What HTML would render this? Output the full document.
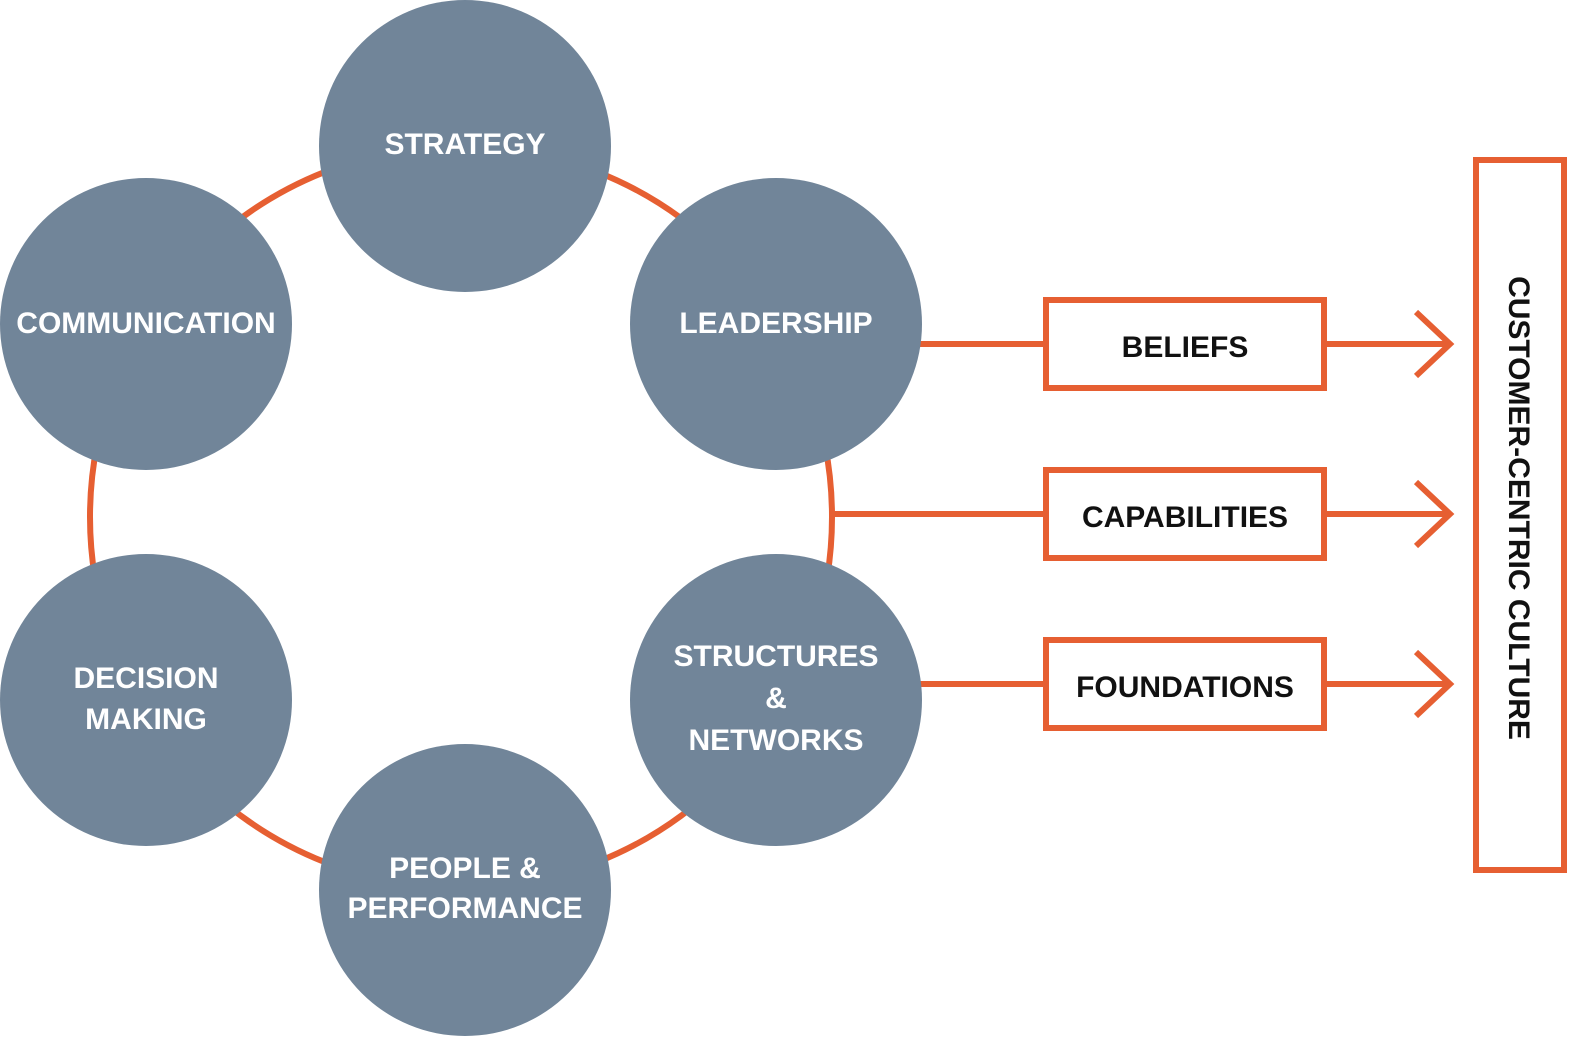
<!DOCTYPE html>
<html><head><meta charset="utf-8"><style>
html,body{margin:0;padding:0;background:#fff;}
svg text{font-family:"Liberation Sans","DejaVu Sans",sans-serif;font-weight:bold;}
</style></head><body>
<svg width="1581" height="1045" viewBox="0 0 1581 1045" xmlns="http://www.w3.org/2000/svg">
<g fill="none" stroke="#E65F32" stroke-width="6">
<circle cx="461" cy="517" r="371"/>
<line x1="900" y1="344" x2="1044" y2="344"/>
<line x1="832" y1="514" x2="1044" y2="514"/>
<line x1="900" y1="684" x2="1044" y2="684"/>
<rect x="1046" y="300" width="278" height="88"/>
<rect x="1046" y="470" width="278" height="88"/>
<rect x="1046" y="640" width="278" height="88"/>
<line x1="1324" y1="344" x2="1450" y2="344"/>
<line x1="1324" y1="514" x2="1450" y2="514"/>
<line x1="1324" y1="684" x2="1450" y2="684"/>
<polyline points="1416,312 1450,344 1416,376"/>
<polyline points="1416,482 1450,514 1416,546"/>
<polyline points="1416,652 1450,684 1416,716"/>
<rect x="1476" y="160" width="88" height="710"/>
</g>
<g fill="#718599">
<circle cx="465" cy="146" r="146"/>
<circle cx="776" cy="324" r="146"/>
<circle cx="776" cy="700" r="146"/>
<circle cx="465" cy="890" r="146"/>
<circle cx="146" cy="700" r="146"/>
<circle cx="146" cy="324" r="146"/>
</g>
<g fill="#fff" font-size="30" text-anchor="middle">
<text x="465" y="154">STRATEGY</text>
<text x="776" y="333">LEADERSHIP</text>
<text x="146" y="333">COMMUNICATION</text>
<text x="776" y="666">STRUCTURES</text>
<text x="776" y="708">&amp;</text>
<text x="776" y="750">NETWORKS</text>
<text x="146" y="688">DECISION</text>
<text x="146" y="729">MAKING</text>
<text x="465" y="878">PEOPLE &amp;</text>
<text x="465" y="918">PERFORMANCE</text>
</g>
<g fill="#111" font-size="30" text-anchor="middle">
<text x="1185" y="357">BELIEFS</text>
<text x="1185" y="527">CAPABILITIES</text>
<text x="1185" y="697">FOUNDATIONS</text>
<text x="0" y="0" transform="translate(1509,508) rotate(90)">CUSTOMER-CENTRIC CULTURE</text>
</g>
</svg>
</body></html>
